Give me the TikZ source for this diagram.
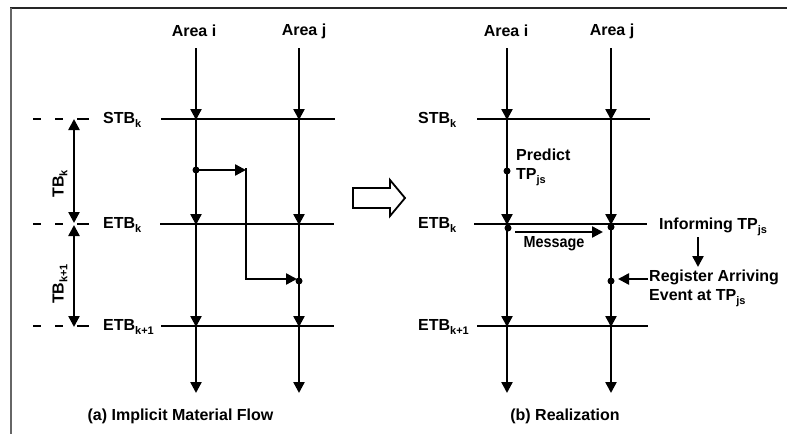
\documentclass[tikz,border=0pt]{standalone}
\usepackage{fontspec}
\setmainfont{Liberation Sans}
\usetikzlibrary{arrows.meta}
\newcommand\lsub[1]{\raisebox{-0.45ex}{\fontsize{11}{11}\selectfont #1}}
\begin{document}
\begin{tikzpicture}[x=1pt,y=-1pt,
  lbl/.style={font=\fontsize{16}{19}\selectfont\bfseries, inner sep=0pt},
  tl/.style={line width=2.4pt},
  arr/.style={line width=2.4pt, -{Triangle[width=11pt,length=11pt]}},
  darr/.style={line width=2.4pt, {Triangle[width=11pt,length=11pt]}-{Triangle[width=11pt,length=11pt]}},
  dot/.style={circle, fill, inner sep=0pt, minimum size=7pt},
  dsh/.style={line width=2.4pt, dash pattern=on 8pt off 14pt on 8pt off 14pt on 12pt off 0pt}
]
\useasboundingbox (0,0) rectangle (787,434);
% frame
\draw[line width=2pt, black!85] (10,8) -- (787,8);
\draw[line width=2pt, black!60] (11,8) -- (11,434);

% ---------- left panel ----------
\foreach \n/\x in {i/196, j/299}{
  \coordinate (L\n0) at (\x,48);
  \coordinate (L\n1) at (\x,120);
  \coordinate (L\n2) at (\x,225);
  \coordinate (L\n3) at (\x,327);
  \coordinate (L\n4) at (\x,393);
  \draw[arr] (L\n0) -- (L\n1);
  \draw[arr] (L\n1) -- (L\n2);
  \draw[arr] (L\n2) -- (L\n3);
  \draw[arr] (L\n3) -- (L\n4);
}
\node[lbl] (LAi) at (194,31) {Area i};
\node[lbl] (LAj) at (304,31) {Area j};

\coordinate (LS1) at (161,119); \coordinate (LS2) at (335,119);
\coordinate (LE1) at (160,224); \coordinate (LE2) at (334,224);
\coordinate (LF1) at (161,326); \coordinate (LF2) at (334,326);
\draw[tl] (LS1) -- (LS2);
\draw[tl] (LE1) -- (LE2);
\draw[tl] (LF1) -- (LF2);

\node[lbl, anchor=west] (LSTB) at (103,120) {STB\lsub{k}};
\node[lbl, anchor=west] (LETB) at (103,225) {ETB\lsub{k}};
\node[lbl, anchor=west] (LETB2) at (103,327) {ETB\lsub{k+1}};

\coordinate (D1a) at (33,119); \coordinate (D1b) at (89,119);
\coordinate (D2a) at (33,224); \coordinate (D2b) at (89,224);
\coordinate (D3a) at (33,326); \coordinate (D3b) at (89,326);
\draw[dsh] (D1a) -- (D1b);
\draw[dsh] (D2a) -- (D2b);
\draw[dsh] (D3a) -- (D3b);

\coordinate (T1) at (74,119); \coordinate (T2) at (74,223);
\coordinate (T3) at (74,225); \coordinate (T4) at (74,327);
\draw[darr] (T1) -- (T2);
\draw[darr] (T3) -- (T4);
\node[lbl, rotate=90] (TBk) at (60,184) {TB\lsub{k}};
\node[lbl, rotate=90] (TBk1) at (60,284) {TB\lsub{k+1}};

% flow path
\node[dot] (f1) at (196,170) {};
\node[dot] (f2) at (299,281) {};
\coordinate (c1) at (246,170);
\coordinate (c2) at (246,168);
\coordinate (c3) at (246,279);
\coordinate (c4) at (297,279);
\draw[arr] (f1.center) -- (c1);
\draw[tl] (c2) -- (c3) -- ++(1,0);
\draw[arr] (245,279) -- (c4);

\node[lbl] (capa) at (180.5,416) {(a) Implicit Material Flow};

% hollow arrow
\draw[line width=1.8pt, line join=miter] (353,188) -- (390,188) -- (390,180) -- (405,198) -- (390,216) -- (390,208) -- (353,208) -- cycle;

% ---------- right panel ----------
\foreach \n/\x in {i/507, j/611}{
  \coordinate (R\n0) at (\x,48);
  \coordinate (R\n1) at (\x,120);
  \coordinate (R\n2) at (\x,225);
  \coordinate (R\n3) at (\x,327);
  \coordinate (R\n4) at (\x,393);
  \draw[arr] (R\n0) -- (R\n1);
  \draw[arr] (R\n1) -- (R\n2);
  \draw[arr] (R\n2) -- (R\n3);
  \draw[arr] (R\n3) -- (R\n4);
}
\node[lbl] (RAi) at (506,31) {Area i};
\node[lbl] (RAj) at (612,31) {Area j};

\coordinate (RS1) at (477,119); \coordinate (RS2) at (650,119);
\coordinate (RE1) at (474,224); \coordinate (RE2) at (647,224);
\coordinate (RF1) at (477,326); \coordinate (RF2) at (648,326);
\draw[tl] (RS1) -- (RS2);
\draw[tl] (RE1) -- (RE2);
\draw[tl] (RF1) -- (RF2);

\node[lbl, anchor=west] (RSTB) at (418,120) {STB\lsub{k}};
\node[lbl, anchor=west] (RETB) at (418,225) {ETB\lsub{k}};
\node[lbl, anchor=west] (RETB2) at (418,327) {ETB\lsub{k+1}};

\node[dot] (p1) at (507,171) {};
\node[lbl, anchor=west, align=left] (pred) at (516,167) {Predict\\TP\lsub{js}};

\node[dot] (m1) at (508,228) {};
\node[dot] (m2) at (611,227) {};
\coordinate (ms) at (515,232);
\coordinate (me) at (603,232);
\draw[arr] (ms) -- (me);
\node[lbl] (msg) at (554,244) {\scalebox{0.9}[1]{Message}};

\node[lbl, anchor=west] (inf) at (659,227) {Informing TP\lsub{js}};
\coordinate (da) at (698,237);
\coordinate (db) at (698,267);
\draw[arr] (da) -- (db);

\node[dot] (r1) at (611,281) {};
\coordinate (ra) at (648,279);
\coordinate (rb) at (618,279);
\draw[arr] (ra) -- (rb);
\node[lbl, anchor=west, align=left] (reg) at (649,288) {Register Arriving\\Event at TP\lsub{js}};

\node[lbl] (capb) at (565,416) {(b) Realization};
\end{tikzpicture}
\end{document}
